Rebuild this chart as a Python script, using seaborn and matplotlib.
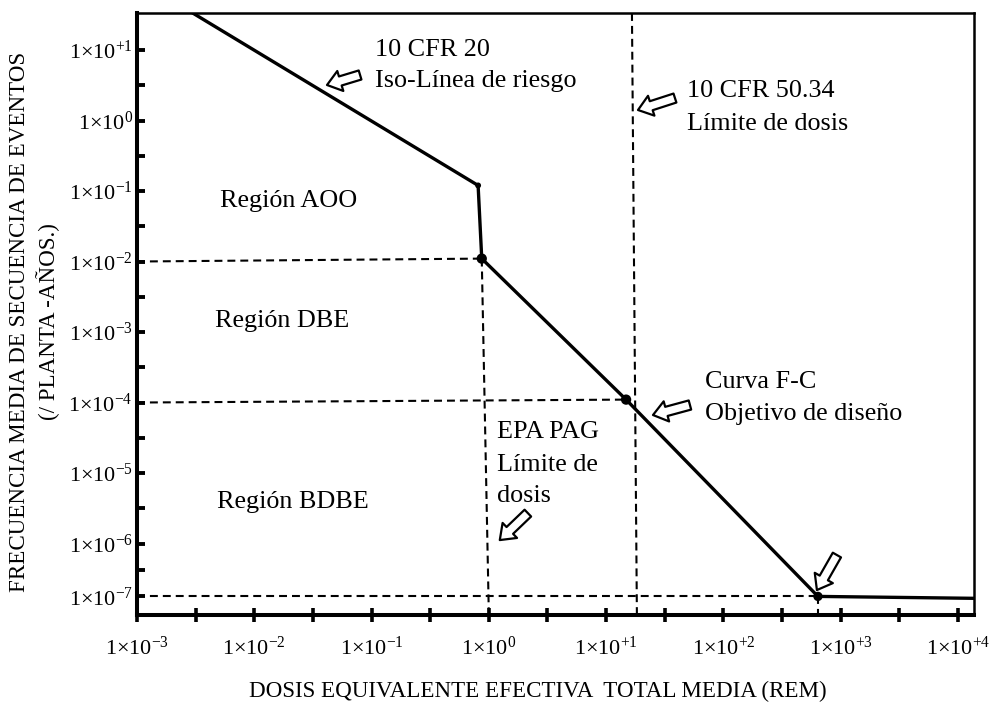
import numpy as np
import pandas as pd
import matplotlib
matplotlib.use("Agg")
import matplotlib.pyplot as plt
from matplotlib.ticker import NullFormatter
import seaborn as sns

# ---- data -------------------------------------------------------------
# F-C curve vertices (dose in rem, frequency per plant-year)
curve_dose = [0.0025, 0.81, 0.87, 14.8, 640.0, 13700.0]
curve_freq = [40.0, 0.12, 0.011, 1.1e-4, 1.0e-7, 9.2e-8]

# marked points on the curve
dot_dose = [0.81, 0.87, 14.8, 640.0]
dot_freq = [0.12, 0.011, 1.1e-4, 1.0e-7]
dot_size = [18, 55, 55, 45]

# dashed guide segments: (x0, y0, x1, y1); None -> axis edge
guide_segments = [
    (1e-3, 1e-2, 0.87, 0.011),
    (1e-3, 1e-4, 14.8, 1.1e-4),
    (1e-3, 1e-7, 640.0, 1e-7),
    (0.87, 0.011, 1.0, None),
    (16.6, "top", 18.3, None),
    (640.0, 1e-7, 640.0, None),
]

dose_ticks = [1e-3, 1e-2, 1e-1, 1e0, 1e1, 1e2, 1e3, 1e4]
dose_tick_labels = [r"$\mathregular{1{\times}10^{-3}}$", r"$\mathregular{1{\times}10^{-2}}$",
                    r"$\mathregular{1{\times}10^{-1}}$", r"$\mathregular{1{\times}10^{0}}$",
                    r"$\mathregular{1{\times}10^{+1}}$", r"$\mathregular{1{\times}10^{+2}}$",
                    r"$\mathregular{1{\times}10^{+3}}$", r"$\mathregular{1{\times}10^{+4}}$"]
dose_minor = [10 ** (k + 0.5) for k in range(-3, 4)]

freq_ticks = [1e1, 1e0, 1e-1, 1e-2, 1e-3, 1e-4, 1e-5, 1e-6, 1e-7]
freq_tick_labels = [r"$\mathregular{1{\times}10^{+1}}$", r"$\mathregular{1{\times}10^{0}}$",
                    r"$\mathregular{1{\times}10^{-1}}$", r"$\mathregular{1{\times}10^{-2}}$",
                    r"$\mathregular{1{\times}10^{-3}}$", r"$\mathregular{1{\times}10^{-4}}$",
                    r"$\mathregular{1{\times}10^{-5}}$", r"$\mathregular{1{\times}10^{-6}}$",
                    r"$\mathregular{1{\times}10^{-7}}$"]
freq_minor = [10 ** (k + 0.5) for k in range(-7, 1)]

# annotation texts: (text, dose, freq)
notes = [
    ("10 CFR 20", 0.107, 8.22),
    ("Iso-Línea de riesgo", 0.107, 2.99),
    ("10 CFR 50.34", 48.9, 2.15),
    ("Límite de dosis", 48.9, 0.733),
    ("Región AOO", 0.0051, 0.0593),
    ("Región DBE", 0.00462, 1.18e-3),
    ("Región BDBE", 0.00481, 3.19e-6),
    ("Curva F-C", 69.5, 1.61e-4),
    ("Objetivo de diseño", 69.5, 5.65e-5),
    ("EPA PAG", 1.17, 3.13e-5),
    ("Límite de", 1.17, 1.07e-5),
    ("dosis", 1.17, 3.88e-6),
]

# hollow pointer arrows: tip (dose, freq) and tail offset in points
arrow_tip_dose = [0.0417, 18.7, 25.1, 1.24, 627.0]
arrow_tip_freq = [3.19, 1.41, 6.65e-5, 1.12e-6, 1.32e-7]
arrow_tail_off = [(23.8, 7.2), (26.6, 8.6), (26.6, 7.2), (20.2, 19.4), (14.4, 25.2)]

X_LIM = (1e-3, 1.37e4)
Y_LIM = (4.45e-8, 33.5)

# ---- style ------------------------------------------------------------
sns.set_theme(style="white")
plt.rcParams["font.family"] = ["Liberation Serif", "DejaVu Serif"]
plt.rcParams["mathtext.fontset"] = "custom"
plt.rcParams["mathtext.rm"] = "Liberation Serif"
plt.rcParams["mathtext.it"] = "Liberation Serif:italic"
plt.rcParams["mathtext.bf"] = "Liberation Serif:bold"
for key in ["text.color", "axes.labelcolor", "xtick.color", "ytick.color", "axes.edgecolor"]:
    plt.rcParams[key] = "black"


# frequency axis: log decades, the last decade drawn compressed
def freq_fwd(y):
    L = np.log10(np.clip(np.asarray(y, float), 1e-300, None))
    return np.where(L >= -6, L, -6 + 0.75 * (L + 6))


def freq_inv(u):
    u = np.asarray(u, float)
    return np.where(u >= -6, 10.0 ** u, 10.0 ** (-6 + (u + 6) / 0.75))


fig = plt.figure(figsize=(9.97, 7.05), dpi=100)
ax = fig.add_axes([137 / 997, 1 - 615 / 705, (974 - 137) / 997, (615 - 13) / 705])
ax.set_xscale("log")
ax.set_yscale("function", functions=(freq_fwd, freq_inv))
ax.set_xlim(*X_LIM)
ax.set_ylim(*Y_LIM)

# dashed guides
dash_style = dict(color="black", lw=1.5, linestyle=(0, (3.8, 2.4)), zorder=2)
for x0, y0, x1, y1 in guide_segments:
    y0 = Y_LIM[1] if y0 == "top" else y0
    y1 = Y_LIM[0] if y1 is None else y1
    ax.plot([x0, x1], [y0, y1], **dash_style)

# F-C curve
curve = pd.DataFrame({"dose": curve_dose, "freq": curve_freq})
sns.lineplot(data=curve, x="dose", y="freq", sort=False, estimator=None,
             color="black", lw=2.4, ax=ax, zorder=3)
dots = pd.DataFrame({"dose": dot_dose, "freq": dot_freq, "s": dot_size})
sns.scatterplot(data=dots, x="dose", y="freq", size="s", sizes=(min(dot_size), max(dot_size)),
                color="black", edgecolor="black", linewidth=0, legend=False, ax=ax, zorder=4)

# annotations
for txt, xd, yd in notes:
    ax.text(xd, yd, txt, fontsize=18.8, ha="left", va="baseline", zorder=5)

for xd, yd, off in zip(arrow_tip_dose, arrow_tip_freq, arrow_tail_off):
    ax.annotate("", xy=(xd, yd), xycoords="data", xytext=off, textcoords="offset points",
                arrowprops=dict(arrowstyle="simple,head_length=0.5,head_width=0.75,tail_width=0.34",
                                mutation_scale=20, fc="white", ec="black", lw=1.6,
                                shrinkA=0, shrinkB=0),
                zorder=6)

# axes, ticks and labels
ax.set_xticks(dose_ticks, labels=dose_tick_labels)
ax.set_xticks(dose_minor, minor=True)
ax.xaxis.set_minor_formatter(NullFormatter())
ax.set_yticks(freq_ticks, labels=freq_tick_labels)
ax.set_yticks(freq_minor, minor=True)
ax.yaxis.set_minor_formatter(NullFormatter())
ax.set_xlim(*X_LIM)
ax.set_ylim(*Y_LIM)

ax.tick_params(axis="x", which="both", direction="inout", length=9.5, width=2.6,
               pad=11, labelsize=16, bottom=True)
ax.tick_params(axis="y", which="both", direction="in", length=5.5, width=2.8,
               pad=3, labelsize=16, left=True)

for side in ["left", "bottom"]:
    ax.spines[side].set_linewidth(2.9)
for side in ["top", "right"]:
    ax.spines[side].set_linewidth(1.8)
for sp in ax.spines.values():
    sp.set_visible(True)
    sp.set_color("black")

ax.set_xlabel("DOSIS EQUIVALENTE EFECTIVA  TOTAL MEDIA (REM)", fontsize=16.6)
ax.xaxis.set_label_coords(0.479, -0.11)
ax.set_ylabel("FRECUENCIA MEDIA DE SECUENCIA DE EVENTOS\n(/ PLANTA -AÑOS.)",
              fontsize=16.6, linespacing=1.3)
ax.yaxis.set_label_coords(-0.092, 0.487)

fig.savefig("out.png", dpi=100)
